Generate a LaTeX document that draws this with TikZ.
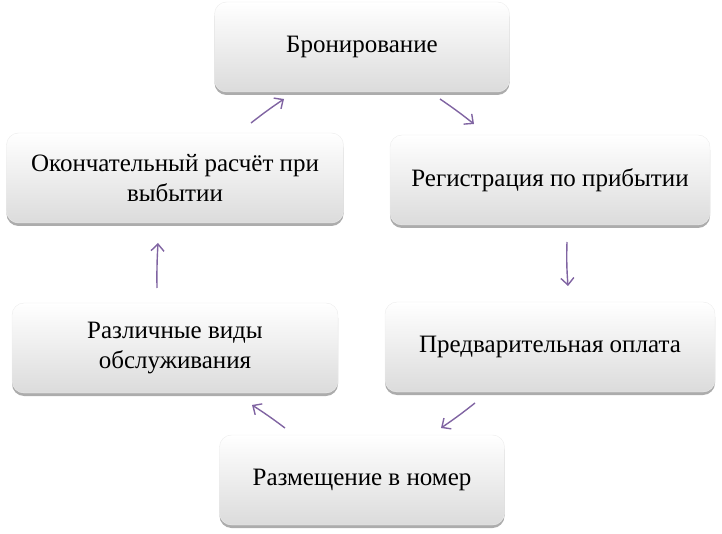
\documentclass[tikz,border=0pt]{standalone}
\usepackage{fontspec}
\setmainfont{Liberation Serif}
\usetikzlibrary{arrows,arrows.meta,shadows,positioning}
\definecolor{cyclearrow}{HTML}{8064A2}

\begin{document}
\begin{tikzpicture}[
x=1pt,y=-1pt,
>={Straight Barb[length=7pt,width=13pt]},
stage/.style={
	draw=gray!15,
	rounded corners=12pt,
	top color=white,
	bottom color=gray!28,
	minimum height=90pt,
	inner sep=4pt,
	align=center,
	font=\fontsize{25}{30}\selectfont,
	drop shadow={shadow xshift=0pt,shadow yshift=-3pt,opacity=0.5,fill=gray!70!black}
},
cycle/.style={
	->,
	line width=1.4pt,
	draw=cyclearrow
}
]
\useasboundingbox (0,0) rectangle (722,534);

\node[stage,minimum width=295pt] (book) at (362,47) {Бронирование};
\node[stage,minimum width=320pt] (checkin) at (550,180) {Регистрация по прибытии};
\node[stage,minimum width=330pt] (prepay) at (550,347) {Предварительная оплата};
\node[stage,minimum width=285pt] (room) at (362,480) {Размещение в номер};
\node[stage,minimum width=326pt] (service) at (175,348) {Различные виды\\обслуживания};
\node[stage,minimum width=337pt] (checkout) at (175,178) {Окончательный расчёт при\\выбытии};

% free ends of the arrows
\coordinate (a1) at (440,99);  \coordinate (b1) at (474,124);
\coordinate (a2) at (567,242); \coordinate (b2) at (568,286);
\coordinate (a3) at (475,403); \coordinate (b3) at (441,428);
\coordinate (a4) at (285,428); \coordinate (b4) at (252,405);
\coordinate (a5) at (157,288); \coordinate (b5) at (158,243);
\coordinate (a6) at (251,123); \coordinate (b6) at (284,99);

\draw[cycle] (a1) to[bend left=2] (b1);
\draw[cycle] (a2) to[bend right=3] (b2);
\draw[cycle] (a3) to[bend left=2] (b3);
\draw[cycle] (a4) to[bend right=2] (b4);
\draw[cycle] (a5) to[bend left=2] (b5);
\draw[cycle] (a6) to[bend left=2] (b6);
\end{tikzpicture}
\end{document}
